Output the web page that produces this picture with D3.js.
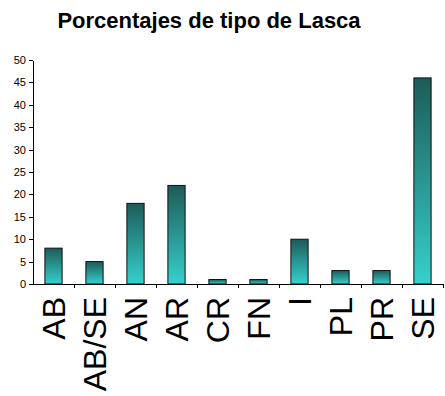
<!DOCTYPE html>
<html>
<head>
<meta charset="utf-8">
<script src="https://cdn.jsdelivr.net/npm/d3@7"></script>
<style>
  body { margin: 0; background: #fff; }
  svg { display: block; font-family: Arial, "Liberation Sans", sans-serif; }
  .axis path, .axis line { stroke: #000; shape-rendering: crispEdges; }
  .axis-x .tick line { stroke: #888; }
</style>
</head>
<body>
<svg id="chart" width="445" height="396"></svg>
<script>
const categories = ['AB', 'AB/SE', 'AN', 'AR', 'CR', 'FN', 'I', 'PL', 'PR', 'SE'];
const values = [8, 5, 18, 22, 1, 1, 10, 3, 3, 46];
const yTicks = [0, 5, 10, 15, 20, 25, 30, 35, 40, 45, 50];
const title = 'Porcentajes de tipo de Lasca';

const data = categories.map((c, i) => ({ cat: c, value: values[i] }));

const margin = { top: 60, right: 2, bottom: 112, left: 33 };
const w = 445;
const h = 396;
const width = w - margin.left - margin.right;
const height = h - margin.top - margin.bottom;

const svg = d3.select('#chart');

const defs = svg.append('defs');
const grad = defs.append('linearGradient')
  .attr('id', 'barGrad')
  .attr('x1', 0).attr('y1', 0).attr('x2', 0).attr('y2', 1);
grad.append('stop').attr('offset', '0%').attr('stop-color', '#1d5b58');
grad.append('stop').attr('offset', '100%').attr('stop-color', '#36d0cd');

svg.append('text')
  .attr('x', 209)
  .attr('y', 28)
  .attr('text-anchor', 'middle')
  .attr('font-weight', 'bold')
  .attr('font-size', '22px')
  .text(title);

const g = svg.append('g').attr('transform', `translate(${margin.left},${margin.top})`);

const x = d3.scaleBand().domain(categories).range([0, width]).paddingInner(0.58).paddingOuter(0.29);
const xb = d3.scaleBand().domain(categories).range([0, width]);
const y = d3.scaleLinear().domain([0, 50]).range([height, 0]);

g.append('g')
  .attr('class', 'axis axis-y')
  .call(d3.axisLeft(y).tickValues(yTicks).tickSize(4).tickPadding(3).tickSizeOuter(0))
  .call(s => s.selectAll('text').attr('font-size', '11px').attr('font-family', 'Arial, "Liberation Sans", sans-serif').attr('fill', '#000'));

// x axis, ticks sit between categories
const xAxis = g.append('g')
  .attr('class', 'axis axis-x')
  .attr('transform', `translate(0,${height})`);
xAxis.append('line').attr('x1', 0).attr('x2', width).attr('y1', 0).attr('y2', 0);
xAxis.selectAll('.tick')
  .data(categories.slice(1).concat(['end']))
  .join('line')
  .attr('class', 'tick')
  .attr('stroke', '#999')
  .attr('x1', d => d === 'end' ? width : xb(d))
  .attr('x2', d => d === 'end' ? width : xb(d))
  .attr('y1', 0).attr('y2', 4);

g.selectAll('.bar')
  .data(data)
  .join('rect')
  .attr('class', 'bar')
  .attr('x', d => x(d.cat))
  .attr('y', d => y(d.value))
  .attr('width', x.bandwidth())
  .attr('height', d => height - y(d.value))
  .attr('fill', 'url(#barGrad)')
  .attr('stroke', '#111')
  .attr('stroke-width', 1);

g.selectAll('.xlabel')
  .data(categories)
  .join('text')
  .attr('class', 'xlabel')
  .attr('transform', d => `translate(${xb(d) + xb.bandwidth() / 2},${height + 13}) rotate(-90)`)
  .attr('text-anchor', 'end')
  .attr('dy', '0.35em')
  .attr('font-size', '32px')
  .text(d => d);
</script>
</body>
</html>
